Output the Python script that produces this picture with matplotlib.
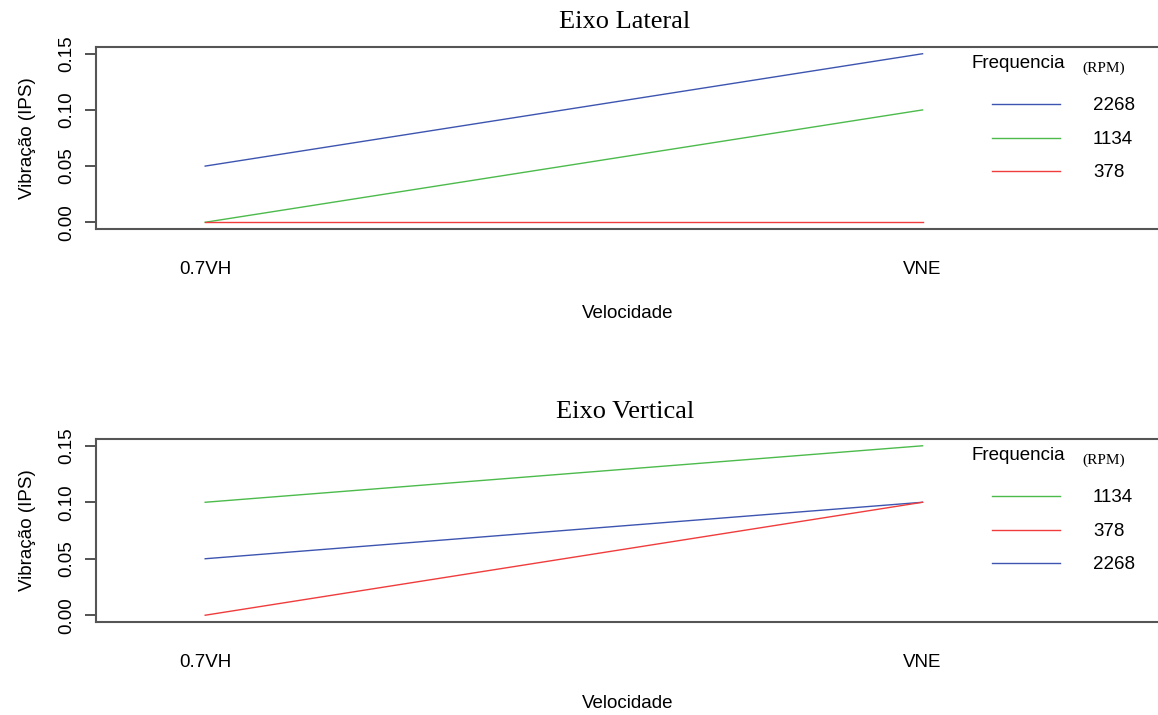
import matplotlib
matplotlib.use("Agg")
import matplotlib.pyplot as plt

# data (interaction plot, two panels)
velocidade = ["0.7VH", "VNE"]

lateral_labels = ["2268", "1134", "378"]
lateral_values = [[0.05, 0.15], [0.0, 0.10], [0.0, 0.0]]

vertical_labels = ["1134", "378", "2268"]
vertical_values = [[0.10, 0.15], [0.0, 0.10], [0.05, 0.10]]

yticks = [0.00, 0.05, 0.10, 0.15]

colors = {"2268": "#3d55b0", "1134": "#4cbb4c", "378": "#f03c3c"}

W, H = 1158, 715
FS = 13.5
plt.rcParams["font.family"] = ["Liberation Sans", "DejaVu Sans"]
fig = plt.figure(figsize=(W / 100, H / 100), dpi=100)


def fx(px):
    return px / W


def fy(py):
    return 1 - py / H


def panel(top, bottom, title, labels, values, title_y, xlab_y, leg_top):
    ax = fig.add_axes([fx(96), fy(bottom), fx(1160) - fx(96), fy(top) - fy(bottom)])
    xs = list(range(1, len(velocidade) + 1))
    # draw blue, green, red so red ends on top
    order = sorted(range(len(labels)), key=lambda i: ["2268", "1134", "378"].index(labels[i]))
    for i in order:
        ax.plot(xs, values[i], color=colors[labels[i]], lw=1.0)
    ax.set_xlim(0.8478, 2.331)
    ax.set_ylim(-0.006, 0.156)
    ax.set_xticks(xs)
    ax.set_xticklabels(velocidade, fontsize=FS)
    ax.tick_params(axis="x", length=0, pad=23)
    ax.set_yticks(yticks)
    ax.set_yticklabels([f"{v:.2f}" for v in yticks], fontsize=FS, rotation=90, va="center")
    ax.tick_params(axis="y", length=8, width=1.3, color="#444444", pad=7)
    for s in ["left", "top", "bottom"]:
        ax.spines[s].set_color("#555555")
        ax.spines[s].set_linewidth(1.5)
    ax.spines["right"].set_visible(False)
    ax.set_ylabel("Vibração (IPS)", fontsize=FS, labelpad=16)

    fig.text(fx(625), fy(title_y), title, fontsize=19, family="Liberation Serif",
             ha="center", va="center")
    fig.text(fx(628), fy(xlab_y), "Velocidade", fontsize=FS, ha="center", va="center")

    # legend drawn by hand like R's
    fig.text(fx(971), fy(leg_top + 1), "Frequencia", fontsize=FS, ha="left", va="center")
    fig.text(fx(1082), fy(leg_top + 6), "(RPM)", fontsize=11, family="Liberation Serif",
             ha="left", va="center")
    for k, lab in enumerate(labels):
        yy = fy(leg_top + 42 + k * 33.5)
        fig.add_artist(plt.Line2D([fx(992), fx(1060)], [yy, yy], color=colors[lab], lw=1.0))
        fig.text(fx(1093), yy - 1.5 / H, lab, fontsize=FS, ha="left", va="center")
    return ax


panel(47, 229, "Eixo Lateral", lateral_labels, lateral_values, 22, 313, 62)
panel(439, 622, "Eixo Vertical", vertical_labels, vertical_values, 412, 704, 454)

fig.savefig("out.png", dpi=100)
